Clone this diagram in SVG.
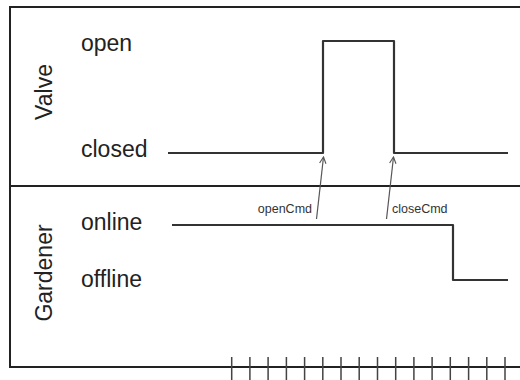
<svg xmlns="http://www.w3.org/2000/svg" width="520" height="380" viewBox="0 0 520 380">
<defs>
<style>
.frame{stroke:#222;stroke-width:2;fill:none}
.sig{stroke:#333;stroke-width:2.2;fill:none;stroke-linejoin:round}
.tick{stroke:#444;stroke-width:1.5}
.lbl{font-family:"Liberation Sans",Arial,sans-serif;font-size:23px;fill:#222}
.cmd{font-family:"Liberation Sans",Arial,sans-serif;font-size:12.5px;fill:#333}
.arr{stroke:#555;stroke-width:1.2;fill:none}
</style>
<marker id="ah" viewBox="0 0 10 10" refX="9" refY="5" markerWidth="8" markerHeight="8" orient="auto" markerUnits="userSpaceOnUse">
<path d="M1,1 L9,5 L1,9" stroke="#555" stroke-width="1.4" fill="none"/>
</marker>
</defs>
<rect width="520" height="380" fill="#fff"/>
<g id="frame">
<path class="frame" d="M520,7 H10 V367 H520"/>
<line class="frame" x1="10" y1="186" x2="520" y2="186"/>
</g>
<g id="valve">
<text class="lbl" transform="translate(52,92) rotate(-90)" text-anchor="middle">Valve</text>
<text class="lbl" x="81" y="51">open</text>
<text class="lbl" x="81" y="157">closed</text>
<path class="sig" d="M168,153 H323 V41 H394 V153 H508"/>
</g>
<g id="gardener">
<text class="lbl" transform="translate(52,273) rotate(-90)" text-anchor="middle">Gardener</text>
<text class="lbl" x="81" y="230">online</text>
<text class="lbl" x="81" y="287">offline</text>
<path class="sig" d="M172,225 H453 V280 H508"/>
</g>
<g id="connectors">
<line class="arr" x1="316.5" y1="219" x2="323.5" y2="157" marker-end="url(#ah)"/>
<line class="arr" x1="386.5" y1="219" x2="393.5" y2="157" marker-end="url(#ah)"/>
<text class="cmd" x="312" y="213" text-anchor="end">openCmd</text>
<text class="cmd" x="392" y="213">closeCmd</text>
</g>
<g id="timeline">
<path class="tick" d="M231.7,357V380M249.9,357V380M268.1,357V380M286.4,357V380M304.6,357V380M322.8,357V380M341,357V380M359.2,357V380M377.5,357V380M395.7,357V380M413.9,357V380M432.1,357V380M450.3,357V380M468.6,357V380M486.8,357V380M505,357V380"/>
</g>
</svg>
